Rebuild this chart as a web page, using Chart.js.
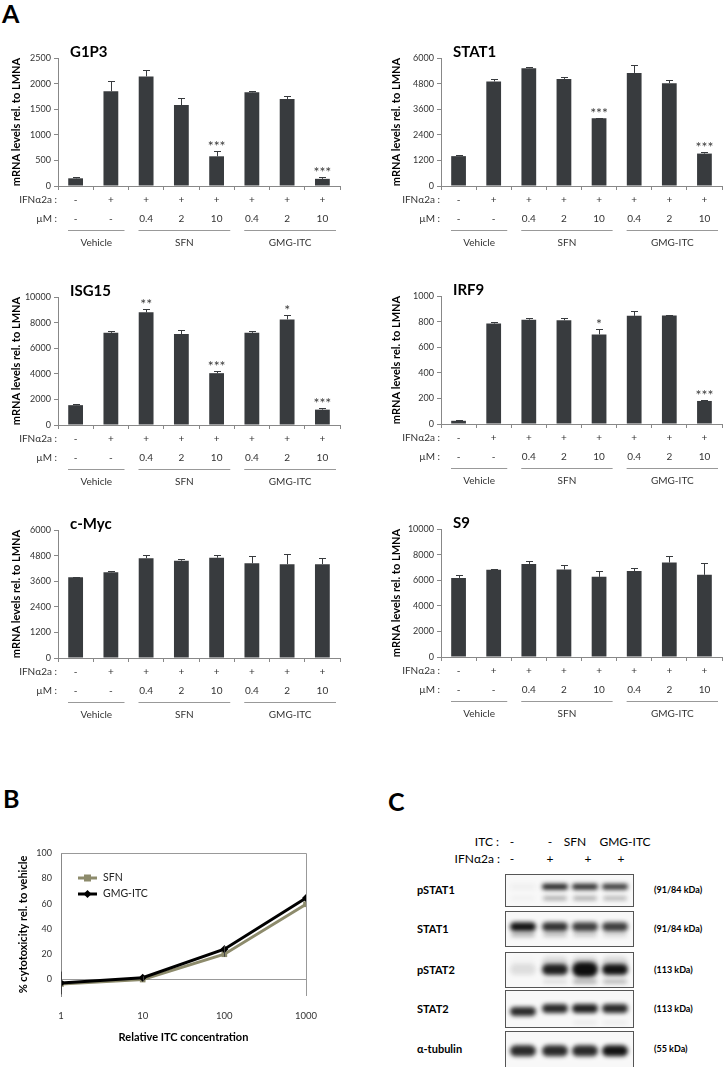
<!DOCTYPE html>
<html>
<head>
<meta charset="utf-8">
<script src="https://cdn.jsdelivr.net/npm/chart.js@4.4.0/dist/chart.umd.min.js"></script>
<style>
  body { margin: 0; background: #fff; }
  #page { position: relative; width: 723px; height: 1067px; overflow: hidden; font-family: Lato, 'Open Sans', sans-serif; }
  canvas { position: absolute; }
  .letter { position: absolute; font-weight: bold; font-size: 25px; color: #000; }
  .blot-txt { position: absolute; white-space: nowrap; color: #000; }
</style>
</head>
<body>
<div id="page">
  <div class="letter" style="left:2px;top:-2px">A</div>
  <div class="letter" style="left:3px;top:783px">B</div>
  <div class="letter" style="left:388px;top:786px">C</div>
</div>
<script>
const FONT = "Lato, 'Open Sans', sans-serif";

// ---- panel A data ----
const conditions = ['veh-', 'veh+', 'sfn0.4', 'sfn2', 'sfn10', 'gmg0.4', 'gmg2', 'gmg10'];
const ifnRow = ['-', '+', '+', '+', '+', '+', '+', '+'];
const doseRow = ['-', '-', '0.4', '2', '10', '0.4', '2', '10'];
const groupNames = ['Vehicle', 'SFN', 'GMG-ITC'];
const groupSpans = [[0, 1], [2, 4], [5, 7]];

const g1p3Values = [150, 1850, 2140, 1580, 580, 1830, 1700, 140];
const g1p3Errors = [20, 200, 120, 140, 100, 30, 50, 30];
const g1p3Stars = ['', '', '', '', '***', '', '', '***'];

const stat1Values = [1400, 4900, 5520, 5020, 3180, 5300, 4820, 1520];
const stat1Errors = [60, 120, 60, 80, 20, 350, 140, 80];
const stat1Stars = ['', '', '', '', '***', '', '', '***'];

const isg15Values = [1550, 7200, 8800, 7100, 4050, 7200, 8250, 1200];
const isg15Errors = [120, 180, 250, 350, 200, 150, 350, 150];
const isg15Stars = ['', '', '**', '', '***', '', '*', '***'];

const irf9Values = [25, 785, 815, 810, 700, 845, 848, 180];
const irf9Errors = [5, 8, 12, 20, 40, 35, 5, 5];
const irf9Stars = ['', '', '', '', '*', '', '', '***'];

const mycValues = [3790, 4020, 4680, 4560, 4700, 4440, 4400, 4400];
const mycErrors = [30, 50, 150, 100, 130, 350, 480, 300];

const s9Values = [6180, 6820, 7270, 6830, 6260, 6720, 7380, 6420];
const s9Errors = [230, 60, 240, 330, 470, 240, 540, 930];

// ---- panel B data ----
const concentrations = [1, 10, 100, 1000];
const sfnCyto = [-3.5, 0, 20, 59.5];
const sfnCytoErr = [2, 1, 2, 2];
const gmgCyto = [-2.7, 1.5, 24, 64.5];
const gmgCytoErr = [9, 1, 3, 5];
const cytoXTicks = [1, 10, 100, 1000];
const cytoYTicks = [0, 20, 40, 60, 80, 100];

// ---- panel C data ----
const blotItc = ['-', '-', 'SFN', 'GMG-ITC'];
const blotIfn = ['-', '+', '+', '+'];
const blotRows = ['pSTAT1', 'STAT1', 'pSTAT2', 'STAT2', 'α-tubulin'];
const blotSizes = ['(91/84 kDa)', '(91/84 kDa)', '(113 kDa)', '(113 kDa)', '(55 kDa)'];
const blotMain = [
  [0.04, 0.92, 0.88, 0.82],
  [0.98, 0.85, 0.8, 0.8],
  [0.1, 0.92, 1.0, 0.98],
  [0.88, 0.88, 0.92, 0.88],
  [0.88, 0.88, 0.88, 0.98]
];
const blotLower = [
  [0.03, 0.35, 0.35, 0.3],
  [0.3, 0.25, 0.2, 0.15],
  [0.0, 0.12, 0.35, 0.3],
  [0.0, 0.0, 0.06, 0.05],
  [0.0, 0.0, 0.0, 0.0]
];

const page = document.getElementById('page');

function addCanvas(left, top, w, h) {
  const c = document.createElement('canvas');
  c.width = w; c.height = h;
  c.style.left = left + 'px'; c.style.top = top + 'px';
  c.style.width = w + 'px'; c.style.height = h + 'px';
  page.appendChild(c);
  return c;
}

const barExtras = {
  id: 'barExtras',
  afterDatasetsDraw(chart) {
    const ctx = chart.ctx;
    const ds = chart.data.datasets[0];
    const y = chart.scales.y;
    ctx.save();
    ctx.strokeStyle = '#383b3e';
    ctx.lineWidth = 1;
    chart.getDatasetMeta(0).data.forEach((bar, i) => {
      const top = Math.round(y.getPixelForValue(ds.data[i] + ds.errors[i])) + 0.5;
      const x = Math.round(bar.x) + 0.5;
      ctx.beginPath();
      ctx.moveTo(x, bar.y); ctx.lineTo(x, top);
      ctx.moveTo(x - 3.5, top); ctx.lineTo(x + 3.5, top);
      ctx.stroke();
      if (ds.stars && ds.stars[i]) {
        ctx.fillStyle = '#3a3a3a';
        ctx.font = '14px ' + FONT;
        ctx.textAlign = 'center';
        ctx.textBaseline = 'alphabetic';
        ctx.fillText(ds.stars[i], bar.x, top - 1);
      }
    });
    ctx.restore();
  },
  afterDraw(chart, args, opts) {
    const ctx = chart.ctx;
    const area = chart.chartArea;
    const x = chart.scales.x;
    ctx.save();
    // chart title
    ctx.fillStyle = '#000';
    ctx.font = 'bold 15px ' + FONT;
    ctx.textAlign = 'left';
    ctx.textBaseline = 'alphabetic';
    ctx.fillText(opts.title, area.left + 12, area.top - 1);
    // condition rows
    ctx.fillStyle = '#333';
    ctx.font = '10px ' + FONT;
    ctx.textBaseline = 'middle';
    ctx.textAlign = 'right';
    ctx.fillText('IFNα2a :', area.left - 1, area.bottom + 14);
    ctx.fillText('µM :', area.left - 1, area.bottom + 33);
    ctx.textAlign = 'center';
    conditions.forEach((c, i) => {
      const px = x.getPixelForValue(i);
      ctx.fillText(ifnRow[i], px, area.bottom + 14);
      ctx.fillText(doseRow[i], px, area.bottom + 33);
    });
    // group brackets
    const half = (x.getPixelForValue(1) - x.getPixelForValue(0)) / 2;
    ctx.strokeStyle = '#999';
    ctx.lineWidth = 1;
    groupSpans.forEach((span, g) => {
      const l = x.getPixelForValue(span[0]) - half + 10;
      const r = x.getPixelForValue(span[1]) + half - 4;
      const ly = Math.round(area.bottom + 44) + 0.5;
      ctx.beginPath(); ctx.moveTo(l, ly); ctx.lineTo(r, ly); ctx.stroke();
      ctx.fillText(groupNames[g], (l + r) / 2, area.bottom + 57);
    });
    ctx.restore();
  }
};

function barChart(left, top, width, axisWidth, titlePad, rightPad, title, yMax, yStep, values, errors, stars) {
  const cv = addCanvas(left, top, width, 215);
  return new Chart(cv, {
    type: 'bar',
    data: {
      labels: conditions,
      datasets: [{
        data: values,
        errors: errors,
        stars: stars,
        backgroundColor: '#383b3e',
        borderWidth: 0,
        barPercentage: 0.42,
        categoryPercentage: 1
      }]
    },
    options: {
      responsive: false,
      animation: false,
      layout: { padding: { top: 18, left: 0, right: rightPad, bottom: 0 } },
      plugins: { legend: { display: false }, tooltip: { enabled: false }, barExtras: { title: title } },
      scales: {
        x: {
          grid: { offset: true, drawOnChartArea: false, tickLength: 4, color: '#888' },
          border: { color: '#888' },
          ticks: { display: false },
          afterFit: s => { s.height = 69; }
        },
        y: {
          min: 0,
          max: yMax,
          ticks: { stepSize: yStep, callback: v => String(v), font: { size: 9, family: FONT }, color: '#333', padding: 3 },
          grid: { drawOnChartArea: false, tickLength: 4, color: '#888' },
          border: { color: '#888' },
          title: {
            display: true,
            text: 'mRNA levels rel. to LMNA',
            font: { size: 11, weight: 'bold', family: FONT },
            color: '#000',
            padding: { top: titlePad, bottom: 0 }
          },
          afterFit: s => { s.width = axisWidth; }
        }
      }
    },
    plugins: [barExtras]
  });
}

barChart(0, 40, 362, 58, 10, 22, 'G1P3', 2500, 500, g1p3Values, g1p3Errors, g1p3Stars);
barChart(362, 40, 361, 79, 28, 1, 'STAT1', 6000, 1200, stat1Values, stat1Errors, stat1Stars);
barChart(0, 279, 362, 58, 10, 22, 'ISG15', 10000, 2000, isg15Values, isg15Errors, isg15Stars);
barChart(362, 278, 361, 79, 28, 1, 'IRF9', 1000, 200, irf9Values, irf9Errors, irf9Stars);
barChart(0, 512, 362, 58, 10, 22, 'c-Myc', 6000, 1200, mycValues, mycErrors, null);
barChart(362, 511, 361, 79, 28, 1, 'S9', 10000, 2000, s9Values, s9Errors, null);

// ---- panel B ----
const lineExtras = {
  id: 'lineExtras',
  afterDatasetsDraw(chart) {
    const ctx = chart.ctx;
    const y = chart.scales.y;
    const area = chart.chartArea;
    ctx.save();
    ctx.beginPath();
    ctx.rect(area.left, area.top, area.right - area.left, area.bottom - area.top);
    ctx.clip();
    ctx.strokeStyle = '#444';
    ctx.lineWidth = 1;
    chart.data.datasets.forEach((ds, d) => {
      chart.getDatasetMeta(d).data.forEach((pt, i) => {
        const v = ds.data[i].y, e = ds.errors[i];
        const x = Math.round(pt.x) + 0.5;
        ctx.beginPath();
        ctx.moveTo(x, y.getPixelForValue(v - e));
        ctx.lineTo(x, y.getPixelForValue(v + e));
        ctx.stroke();
      });
    });
    ctx.restore();
  },
  afterDraw(chart) {
    const ctx = chart.ctx;
    const area = chart.chartArea;
    ctx.save();
    ctx.strokeStyle = '#999';
    ctx.lineWidth = 1;
    ctx.beginPath();
    ctx.moveTo(area.left, area.top + 0.5);
    ctx.lineTo(Math.round(area.right) + 0.5, area.top + 0.5);
    ctx.lineTo(Math.round(area.right) + 0.5, area.bottom);
    ctx.stroke();
    // legend
    const items = [chart.data.datasets[1], chart.data.datasets[0]];
    ctx.font = '10.5px ' + FONT;
    ctx.textBaseline = 'middle';
    ctx.textAlign = 'left';
    items.forEach((ds, k) => {
      const ly = area.top + 25 + k * 16;
      const lx = area.left + 17;
      ctx.strokeStyle = ds.borderColor;
      ctx.lineWidth = 3;
      ctx.beginPath(); ctx.moveTo(lx, ly); ctx.lineTo(lx + 19, ly); ctx.stroke();
      ctx.fillStyle = ds.backgroundColor;
      if (ds.pointStyle === 'rect') {
        ctx.fillRect(lx + 6, ly - 3.5, 7, 7);
      } else {
        ctx.beginPath();
        ctx.moveTo(lx + 9.5, ly - 4); ctx.lineTo(lx + 13.5, ly); ctx.lineTo(lx + 9.5, ly + 4); ctx.lineTo(lx + 5.5, ly);
        ctx.closePath(); ctx.fill();
      }
      ctx.fillStyle = '#222';
      ctx.fillText(ds.label, lx + 25, ly);
    });
    ctx.restore();
  }
};

const cytoCanvas = addCanvas(0, 830, 362, 237);
new Chart(cytoCanvas, {
  type: 'line',
  data: {
    datasets: [
      {
        label: 'GMG-ITC',
        data: concentrations.map((c, i) => ({ x: c, y: gmgCyto[i] })),
        errors: gmgCytoErr,
        borderColor: '#000',
        backgroundColor: '#000',
        borderWidth: 3,
        pointStyle: 'rectRot',
        pointRadius: 4,
        pointBorderWidth: 0,
        order: 0
      },
      {
        label: 'SFN',
        data: concentrations.map((c, i) => ({ x: c, y: sfnCyto[i] })),
        errors: sfnCytoErr,
        borderColor: '#8d8b6c',
        backgroundColor: '#8d8b6c',
        borderWidth: 3,
        pointStyle: 'rect',
        pointRadius: 4,
        pointBorderWidth: 0,
        order: 1
      }
    ]
  },
  options: {
    responsive: false,
    animation: false,
    layout: { padding: { top: 23, left: 0, right: 56, bottom: 0 } },
    plugins: { legend: { display: false }, tooltip: { enabled: false } },
    scales: {
      x: {
        type: 'logarithmic',
        min: 1,
        max: 1000,
        afterBuildTicks: s => { s.ticks = cytoXTicks.map(v => ({ value: v })); },
        ticks: { callback: v => String(v), font: { size: 9.5, family: FONT }, color: '#333', padding: 6, maxRotation: 0, autoSkip: false },
        grid: { display: false },
        border: { display: false },
        title: {
          display: true,
          text: 'Relative ITC concentration',
          font: { size: 11, weight: 'bold', family: FONT },
          color: '#000',
          padding: { top: 0, bottom: 23 }
        },
        afterFit: s => { s.height = 71; }
      },
      y: {
        min: -13,
        max: 100,
        afterBuildTicks: s => { s.ticks = cytoYTicks.map(v => ({ value: v })); },
        ticks: { font: { size: 9, family: FONT }, color: '#333', padding: 9 },
        grid: { drawTicks: false, color: c => (c.tick && c.tick.value === 0 ? '#999' : 'rgba(0,0,0,0)') },
        border: { color: '#888' },
        title: {
          display: true,
          text: '% cytotoxicity rel. to vehicle',
          font: { size: 11, weight: 'bold', family: FONT },
          color: '#000',
          padding: { top: 17, bottom: 0 }
        },
        afterFit: s => { s.width = 61; }
      }
    }
  },
  plugins: [lineExtras]
});

// ---- panel C (blot) ----
const blotLeft = 500, blotTop = 870;
const laneX = [23, 55, 85, 115];
const rowTop = [4, 41, 82, 120, 161];
const rowH = [32, 35, 35, 37, 36];
const mainPos = [0.4, 0.45, 0.5, 0.5, 0.55];
const mainH = [6, 9, 11, 9, 11];
const lowerPos = [0.76, 0.68, 0.84, 0.88, 0.9];

function addText(txt, left, top, style) {
  const d = document.createElement('div');
  d.className = 'blot-txt';
  d.textContent = txt;
  d.style.left = left + 'px';
  d.style.top = top + 'px';
  Object.assign(d.style, style || {});
  page.appendChild(d);
  return d;
}

const headX = [512, 550, 575, 625];
blotItc.forEach((t, i) => addText(t, headX[i], 834, { fontSize: '12px', transform: 'translateX(-50%)' }));
blotIfn.forEach((t, i) => addText(t, [512, 550, 588, 621][i], 851, { fontSize: '12px', transform: 'translateX(-50%)' }));
addText('ITC :', 0, 834, { fontSize: '12px', left: 'auto', right: (723 - 499) + 'px' });
addText('IFNα2a :', 0, 851, { fontSize: '12px', left: 'auto', right: (723 - 500) + 'px' });

const blotCanvas = addCanvas(blotLeft, blotTop, 140, 197);
const bctx = blotCanvas.getContext('2d');

function band(cx, cy, w, h, a) {
  bctx.save();
  bctx.filter = 'blur(2px)';
  bctx.fillStyle = 'rgba(14,14,14,' + a + ')';
  bctx.beginPath();
  bctx.roundRect(cx - w / 2, cy - h / 2, w, h, h / 2);
  bctx.fill();
  bctx.restore();
}

blotRows.forEach((name, r) => {
  const top = rowTop[r], h = rowH[r];
  bctx.save();
  bctx.beginPath();
  bctx.rect(5, top, 129, h);
  bctx.clip();
  bctx.fillStyle = '#f8f8f8';
  bctx.fillRect(5, top, 129, h);
  laneX.forEach((lx, i) => {
    if (r === 2) band(lx, top + h * 0.3, 26, 12, blotMain[r][i] * 0.14);
    const bh = (r === 2 && i === 2) ? mainH[r] + 4 : mainH[r];
    band(lx, top + h * mainPos[r] + (r === 3 && i === 0 ? 3 : 0), 26, bh, blotMain[r][i]);
    if (blotLower[r][i] > 0) band(lx, top + h * lowerPos[r], 24, 4, blotLower[r][i]);
  });
  bctx.restore();
  bctx.strokeStyle = '#555';
  bctx.lineWidth = 1;
  bctx.strokeRect(5.5, top + 0.5, 128, h);
  addText(name, 417, blotTop + top + h / 2 - 7, { fontSize: '11px', fontWeight: 'bold' });
  addText(blotSizes[r], 654, blotTop + top + h / 2 - 6, { fontSize: '9px', fontWeight: 'bold' });
});
</script>
</body>
</html>
